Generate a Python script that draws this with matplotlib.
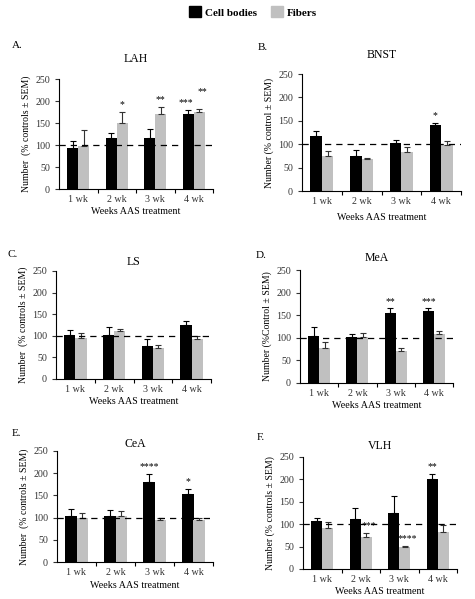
import matplotlib
matplotlib.use("Agg")
import matplotlib.pyplot as plt
from matplotlib.patches import Patch
import numpy as np

plt.rcParams['font.family'] = ['Liberation Serif', 'DejaVu Serif']

weeks = ["1 wk", "2 wk", "3 wk", "4 wk"]
series_names = ["Cell bodies", "Fibers"]

regions = ["LAH", "BNST", "LS", "MeA", "CeA", "VLH"]
letters = ["A.", "B.", "C.", "D.", "E.", "F."]
ylabels = ["Number  (% controls ± SEM)", "Number (% control ± SEM)",
           "Number  (% controls ± SEM)", "Number (%Control ± SEM)",
           "Number  (% controls ± SEM)", "Number (% controls ± SEM)"]

# means
cell_LAH = [94, 115, 115, 171]
fib_LAH = [98, 151, 171, 174]
cell_BNST = [117, 75, 102, 141]
fib_BNST = [74, 68, 84, 99]
cell_LS = [102, 101, 76, 124]
fib_LS = [95, 110, 71, 92]
cell_MeA = [104, 101, 154, 159]
fib_MeA = [78, 101, 70, 109]
cell_CeA = [103, 103, 181, 154]
fib_CeA = [100, 103, 94, 95]
cell_VLH = [108, 112, 125, 201]
fib_VLH = [92, 71, 49, 82]

# SEM (upper)
cell_LAH_sem = [14, 12, 21, 9]
fib_LAH_sem = [36, 24, 15, 8]
cell_BNST_sem = [11, 12, 8, 5]
fib_BNST_sem = [11, 3, 10, 7]
cell_LS_sem = [11, 20, 17, 11]
fib_LS_sem = [12, 6, 8, 8]
cell_MeA_sem = [19, 7, 11, 6]
fib_MeA_sem = [13, 9, 8, 6]
cell_CeA_sem = [16, 13, 18, 10]
fib_CeA_sem = [11, 12, 6, 5]
cell_VLH_sem = [5, 25, 37, 12]
fib_VLH_sem = [13, 10, 1.5, 16]

# significance labels
cell_LAH_sig = ["", "", "", "***"]
fib_LAH_sig = ["", "*", "**", "**"]
cell_BNST_sig = ["", "", "", "*"]
fib_BNST_sig = ["", "", "", ""]
cell_LS_sig = ["", "", "", ""]
fib_LS_sig = ["", "", "", ""]
cell_MeA_sig = ["", "", "**", "***"]
fib_MeA_sig = ["", "", "", ""]
cell_CeA_sig = ["", "", "****", "*"]
fib_CeA_sig = ["", "", "", ""]
cell_VLH_sig = ["", "", "", "**"]
fib_VLH_sig = ["", "***", "****", ""]

data = {
    "LAH": (cell_LAH, fib_LAH, cell_LAH_sem, fib_LAH_sem, cell_LAH_sig, fib_LAH_sig),
    "BNST": (cell_BNST, fib_BNST, cell_BNST_sem, fib_BNST_sem, cell_BNST_sig, fib_BNST_sig),
    "LS": (cell_LS, fib_LS, cell_LS_sem, fib_LS_sem, cell_LS_sig, fib_LS_sig),
    "MeA": (cell_MeA, fib_MeA, cell_MeA_sem, fib_MeA_sem, cell_MeA_sig, fib_MeA_sig),
    "CeA": (cell_CeA, fib_CeA, cell_CeA_sem, fib_CeA_sem, cell_CeA_sig, fib_CeA_sig),
    "VLH": (cell_VLH, fib_VLH, cell_VLH_sem, fib_VLH_sem, cell_VLH_sig, fib_VLH_sig),
}

W, H = 475, 599
fig = plt.figure(figsize=(W / 100, H / 100), dpi=100)

# axes boxes in pixels: (left, top, right, bottom)
boxes = [(59, 79, 213, 189), (302, 74, 461, 191),
         (56, 271, 211, 379), (300, 270, 453, 383),
         (57, 451, 213, 562), (303, 457, 457, 569)]
letter_pos = [(12, 45), (258, 47), (8, 254), (256, 255), (12, 434), (257, 437)]
title_y = [59, 55, 262, 258, 444, 446]
xlabel_y = [212, 217, 402, 406, 586, 592]

# star placement tweaks (points offsets) to avoid collisions
star_shift = {("LAH", 0, 3): (-2, 0), ("LAH", 1, 3): (2, 7)}

black = "#000000"
gray = "#c0c0c0"
bw = 0.29
fs = 7.2

for i, reg in enumerate(regions):
    l, t, r, b = boxes[i]
    ax = fig.add_axes([l / W, 1 - b / H, (r - l) / W, (b - t) / H])
    cell, fib, csem, fsem, csig, fsig = data[reg]
    x = np.arange(1, 5)
    ax.bar(x - bw / 2, cell, width=bw, color=black, zorder=2)
    ax.bar(x + bw / 2, fib, width=bw, color=gray, zorder=2)
    ax.errorbar(x - bw / 2, cell, yerr=[np.zeros(4), csem], fmt="none",
                ecolor="black", elinewidth=0.8, capsize=2, capthick=0.8, zorder=3)
    ax.errorbar(x + bw / 2, fib, yerr=[np.zeros(4), fsem], fmt="none",
                ecolor="#333333", elinewidth=0.8, capsize=2, capthick=0.8, zorder=3)
    for s, (vals, sems, sigs, off) in enumerate([(cell, csem, csig, -bw / 2),
                                                 (fib, fsem, fsig, bw / 2)]):
        for j in range(4):
            if sigs[j]:
                dx, dy = star_shift.get((reg, s, j), (0, 0))
                if reg == "VLH" and s == 1:
                    dx += 2
                ax.annotate(sigs[j], (x[j] + off, vals[j] + sems[j]),
                            xytext=(dx, 2 + dy), textcoords="offset points",
                            ha="center", va="bottom", fontsize=7)
    ax.axhline(100, color="black", linestyle=(0, (5, 4)), linewidth=0.9, zorder=4)
    ax.set_xlim(0.5, 4.5)
    ax.set_ylim(0, 250)
    ax.set_yticks([0, 50, 100, 150, 200, 250])
    ax.set_xticks(x)
    ax.set_xticklabels(weeks, fontsize=fs)
    ax.set_xticks([1.5, 2.5, 3.5, 4.5], minor=True)
    ax.tick_params(axis="x", which="major", length=0, pad=4, labelsize=fs, colors="#333333")
    ax.tick_params(axis="x", which="minor", length=3, width=0.8)
    ax.tick_params(axis="y", length=3, width=0.8, labelsize=fs, colors="#333333")
    for sp in ["top", "right"]:
        ax.spines[sp].set_visible(False)
    for sp in ["left", "bottom"]:
        ax.spines[sp].set_linewidth(0.8)
    ax.set_ylabel(ylabels[i], fontsize=7, labelpad=3)
    fig.text((l + r) / 2 / W, 1 - title_y[i] / H, reg, ha="center", va="center",
             fontsize=8.5)
    fig.text((l + r) / 2 / W, 1 - xlabel_y[i] / H, "Weeks AAS treatment",
             ha="center", va="center", fontsize=fs)
    lx, ly = letter_pos[i]
    fig.text(lx / W, 1 - ly / H, letters[i], ha="left", va="center", fontsize=8)

handles = [Patch(facecolor=black, edgecolor=black), Patch(facecolor=gray, edgecolor=gray)]
fig.legend(handles, series_names, loc="center", bbox_to_anchor=(253 / W, 1 - 12 / H),
           ncol=2, frameon=False, handlelength=1.1, handleheight=1.1,
           columnspacing=1.2, handletextpad=0.4, prop={"weight": "bold", "size": 8})

fig.savefig("out.png", dpi=100)
